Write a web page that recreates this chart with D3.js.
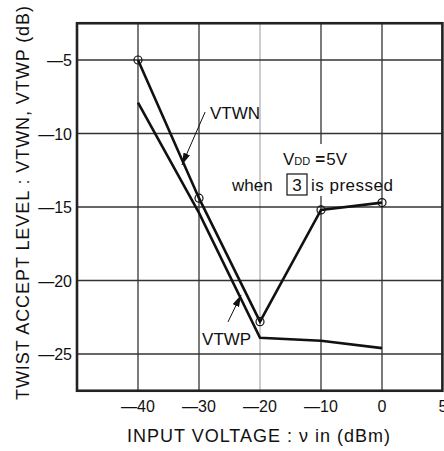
<!DOCTYPE html>
<html lang="en">
<head>
  <meta charset="UTF-8">
  <title>Twist accept level</title>
  <style>
    body { margin: 0; background: #fff; }
    svg text { font-family: "Liberation Sans", Arial, sans-serif; fill: #111; }
  </style>
</head>
<body>
  <div id="chart"></div>
  <script src="https://d3js.org/d3.v7.min.js"></script>
  <script>
    // values
    const inputDbm = [-40, -30, -20, -10, 0];
    const vtwn = [-5, -14.4, -22.8, -15.2, -14.7];
    const vtwp = [-7.9, -15.4, -23.9, -24.1, -24.6];

    const xTicks = [-40, -30, -20, -10, 0, 10];
    const xTickLabels = ['—40', '—30', '—20', '—10', '0', '5'];
    const yTicks = [-5, -10, -15, -20, -25];
    const yTickLabels = ['—5', '—10', '—15', '—20', '—25'];

    const width = 444;
    const height = 451;

    const svg = d3.select('#chart')
      .append('svg')
      .attr('width', width)
      .attr('height', height);

    const x = d3.scaleLinear().domain([-50, 10]).range([77, 443]);
    const y = d3.scaleLinear().domain([-2.5, -27.5]).range([23.25, 390.75]);

    // grid
    svg.append('g')
      .selectAll('line')
      .data(xTicks.filter(d => d < 10))
      .join('line')
      .attr('x1', d => x(d)).attr('x2', d => x(d))
      .attr('y1', y(-2.5)).attr('y2', y(-27.5))
      .attr('stroke', d => d === -20 ? '#999' : '#333')
      .attr('stroke-width', d => d === -20 ? 1 : 1.3);

    svg.append('g')
      .selectAll('line')
      .data(yTicks)
      .join('line')
      .attr('x1', x(-50)).attr('x2', x(10))
      .attr('y1', d => y(d)).attr('y2', d => y(d))
      .attr('stroke', '#333')
      .attr('stroke-width', 1.3);

    // frame
    svg.append('rect')
      .attr('x', x(-50)).attr('y', y(-2.5))
      .attr('width', x(9.9) - x(-50))
      .attr('height', y(-27.5) - y(-2.5))
      .attr('fill', 'none')
      .attr('stroke', '#222')
      .attr('stroke-width', 2.6);

    // tick labels
    svg.append('g')
      .selectAll('text')
      .data(xTicks)
      .join('text')
      .attr('x', d => x(d))
      .attr('y', 412)
      .attr('text-anchor', 'middle')
      .style('font-size', '16px')
      .text((d, i) => xTickLabels[i]);

    svg.append('g')
      .selectAll('text')
      .data(yTicks)
      .join('text')
      .attr('x', 72)
      .attr('y', d => y(d) + 6)
      .attr('text-anchor', 'end')
      .style('font-size', '16px')
      .text((d, i) => yTickLabels[i]);

    // axis titles
    svg.append('text')
      .attr('x', 127)
      .attr('y', 442)
      .attr('textLength', 263)
      .attr('lengthAdjust', 'spacing')
      .style('font-size', '18px')
      .text('INPUT VOLTAGE : ν in (dBm)');

    svg.append('text')
      .attr('transform', 'translate(29, 400) rotate(-90)')
      .attr('textLength', 394)
      .attr('lengthAdjust', 'spacing')
      .style('font-size', '18px')
      .text('TWIST ACCEPT LEVEL : VTWN, VTWP (dB)');

    // gap in the -10 grid line behind the note
    svg.append('rect')
      .attr('x', x(-10) - 6).attr('y', 144)
      .attr('width', 12).attr('height', 52)
      .attr('fill', '#fff');

    // curves
    const line = d3.line()
      .x((d, i) => x(inputDbm[i]))
      .y(d => y(d));

    [vtwn, vtwp].forEach(s => {
      svg.append('path')
        .datum(s)
        .attr('fill', 'none')
        .attr('stroke', '#111')
        .attr('stroke-width', 2.6)
        .attr('stroke-linejoin', 'miter')
        .attr('d', line);
    });

    svg.append('g')
      .selectAll('circle')
      .data(vtwn)
      .join('circle')
      .attr('cx', (d, i) => x(inputDbm[i]))
      .attr('cy', d => y(d))
      .attr('r', 4)
      .attr('fill', 'none')
      .attr('stroke', '#111')
      .attr('stroke-width', 1.2);

    // arrows to the curve names
    svg.append('defs').append('marker')
      .attr('id', 'head')
      .attr('viewBox', '0 0 12 7')
      .attr('refX', 12).attr('refY', 3.5)
      .attr('markerWidth', 12).attr('markerHeight', 7)
      .attr('markerUnits', 'userSpaceOnUse')
      .attr('orient', 'auto')
      .append('path')
      .attr('d', 'M0,0L12,3.5L0,7Z')
      .attr('fill', '#111');

    const arrows = [
      { from: [-29.0, -8.54], to: [-32.8, -12.14] },
      { from: [-25.25, -22.82], to: [-23.1, -20.98] }
    ];
    svg.append('g')
      .selectAll('line')
      .data(arrows)
      .join('line')
      .attr('x1', d => x(d.from[0])).attr('y1', d => y(d.from[1]))
      .attr('x2', d => x(d.to[0])).attr('y2', d => y(d.to[1]))
      .attr('stroke', '#111')
      .attr('stroke-width', 1)
      .attr('marker-end', 'url(#head)');

    svg.append('text')
      .attr('x', x(-28.2)).attr('y', y(-9.01))
      .style('font-size', '17px')
      .text('VTWN');

    svg.append('text')
      .attr('x', x(-29.5)).attr('y', y(-24.39))
      .style('font-size', '17px')
      .text('VTWP');

    // supply note
    const vdd = svg.append('text')
      .attr('x', 283).attr('y', 165)
      .style('font-size', '17px');
    vdd.append('tspan').text('V');
    vdd.append('tspan').style('font-size', '11px').text('DD');
    vdd.append('tspan').attr('dx', 5).style('font-weight', 'bold').text('=');
    vdd.append('tspan').attr('dx', 1).text('5V');

    svg.append('text')
      .attr('x', 232).attr('y', 191)
      .style('font-size', '17px')
      .text('when');
    svg.append('rect')
      .attr('x', 287).attr('y', 174)
      .attr('width', 20).attr('height', 21)
      .attr('fill', 'none')
      .attr('stroke', '#111')
      .attr('stroke-width', 1.2);
    svg.append('text')
      .attr('x', 297).attr('y', 191)
      .attr('text-anchor', 'middle')
      .style('font-size', '17px')
      .text('3');
    svg.append('text')
      .attr('x', 311).attr('y', 191)
      .attr('textLength', 82)
      .attr('lengthAdjust', 'spacing')
      .style('font-size', '17px')
      .text('is pressed');
  </script>
</body>
</html>
